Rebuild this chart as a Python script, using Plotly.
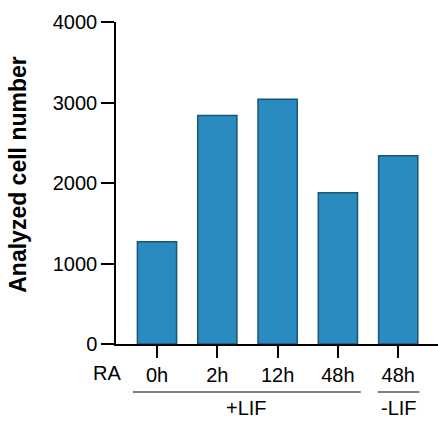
import plotly.graph_objects as go

# Data
time_labels = ["0h", "2h", "12h", "48h", "48h"]
cell_counts = [1270, 2840, 3040, 1880, 2340]
positions = [0, 1, 2, 3, 4]
group_labels = ["+LIF", "-LIF"]
group_spans = [(0, 3), (4, 4)]

FONT = "Liberation Sans, Arial, Helvetica, sans-serif"
LABEL_SIZE = 20
fill_color = "#2A8BC0"
edge_color = "#1B5575"

fig = go.Figure(
    go.Bar(
        x=positions,
        y=cell_counts,
        width=0.65,
        marker=dict(color=fill_color, line=dict(color=edge_color, width=1.5)),
    )
)

fig.update_layout(
    width=438,
    height=425,
    margin=dict(l=116, r=0, t=22, b=81),
    paper_bgcolor="white",
    plot_bgcolor="white",
    showlegend=False,
    font=dict(family=FONT, size=LABEL_SIZE, color="black"),
    xaxis=dict(
        range=[-0.68, 4.66],
        tickvals=positions,
        ticktext=time_labels,
        ticks="outside",
        ticklen=12,
        tickwidth=1.5,
        tickcolor="black",
        showline=True,
        linecolor="black",
        linewidth=1.5,
        showgrid=False,
        zeroline=False,
        tickfont=dict(family=FONT, size=LABEL_SIZE),
    ),
    yaxis=dict(
        range=[0, 4000],
        tickvals=[0, 1000, 2000, 3000, 4000],
        ticks="outside",
        ticklen=13,
        tickwidth=1.5,
        tickcolor="black",
        showline=True,
        linecolor="black",
        linewidth=1.5,
        showgrid=False,
        zeroline=False,
        tickfont=dict(family=FONT, size=LABEL_SIZE),
    ),
)

# Y-axis title, placed explicitly
fig.add_annotation(
    x=-0.304, xref="paper", xanchor="center",
    y=0.526, yref="paper", yanchor="middle",
    text="<b>Analyzed cell number</b>", textangle=-90,
    showarrow=False, font=dict(family=FONT, size=23),
)

# "RA" row label to the left of the time labels
fig.add_annotation(
    x=-0.028, xref="paper", xanchor="center",
    y=-0.09, yref="paper", yanchor="middle",
    text="RA", showarrow=False, font=dict(family=FONT, size=LABEL_SIZE),
)

# Group brackets (+LIF / -LIF) under the time labels
for label, (start, end) in zip(group_labels, group_spans):
    x0 = start - 0.4 if start != end else start - 0.34
    x1 = end + 0.38 if start != end else end + 0.35
    fig.add_shape(
        type="line", xref="x", yref="paper",
        x0=x0, x1=x1, y0=-0.149, y1=-0.149,
        line=dict(color="black", width=1.2),
    )
    fig.add_annotation(
        x=(x0 + x1) / 2, xref="x",
        y=-0.199, yref="paper", yanchor="middle",
        text=label, showarrow=False, font=dict(family=FONT, size=LABEL_SIZE),
    )

fig.write_html("out.html")
